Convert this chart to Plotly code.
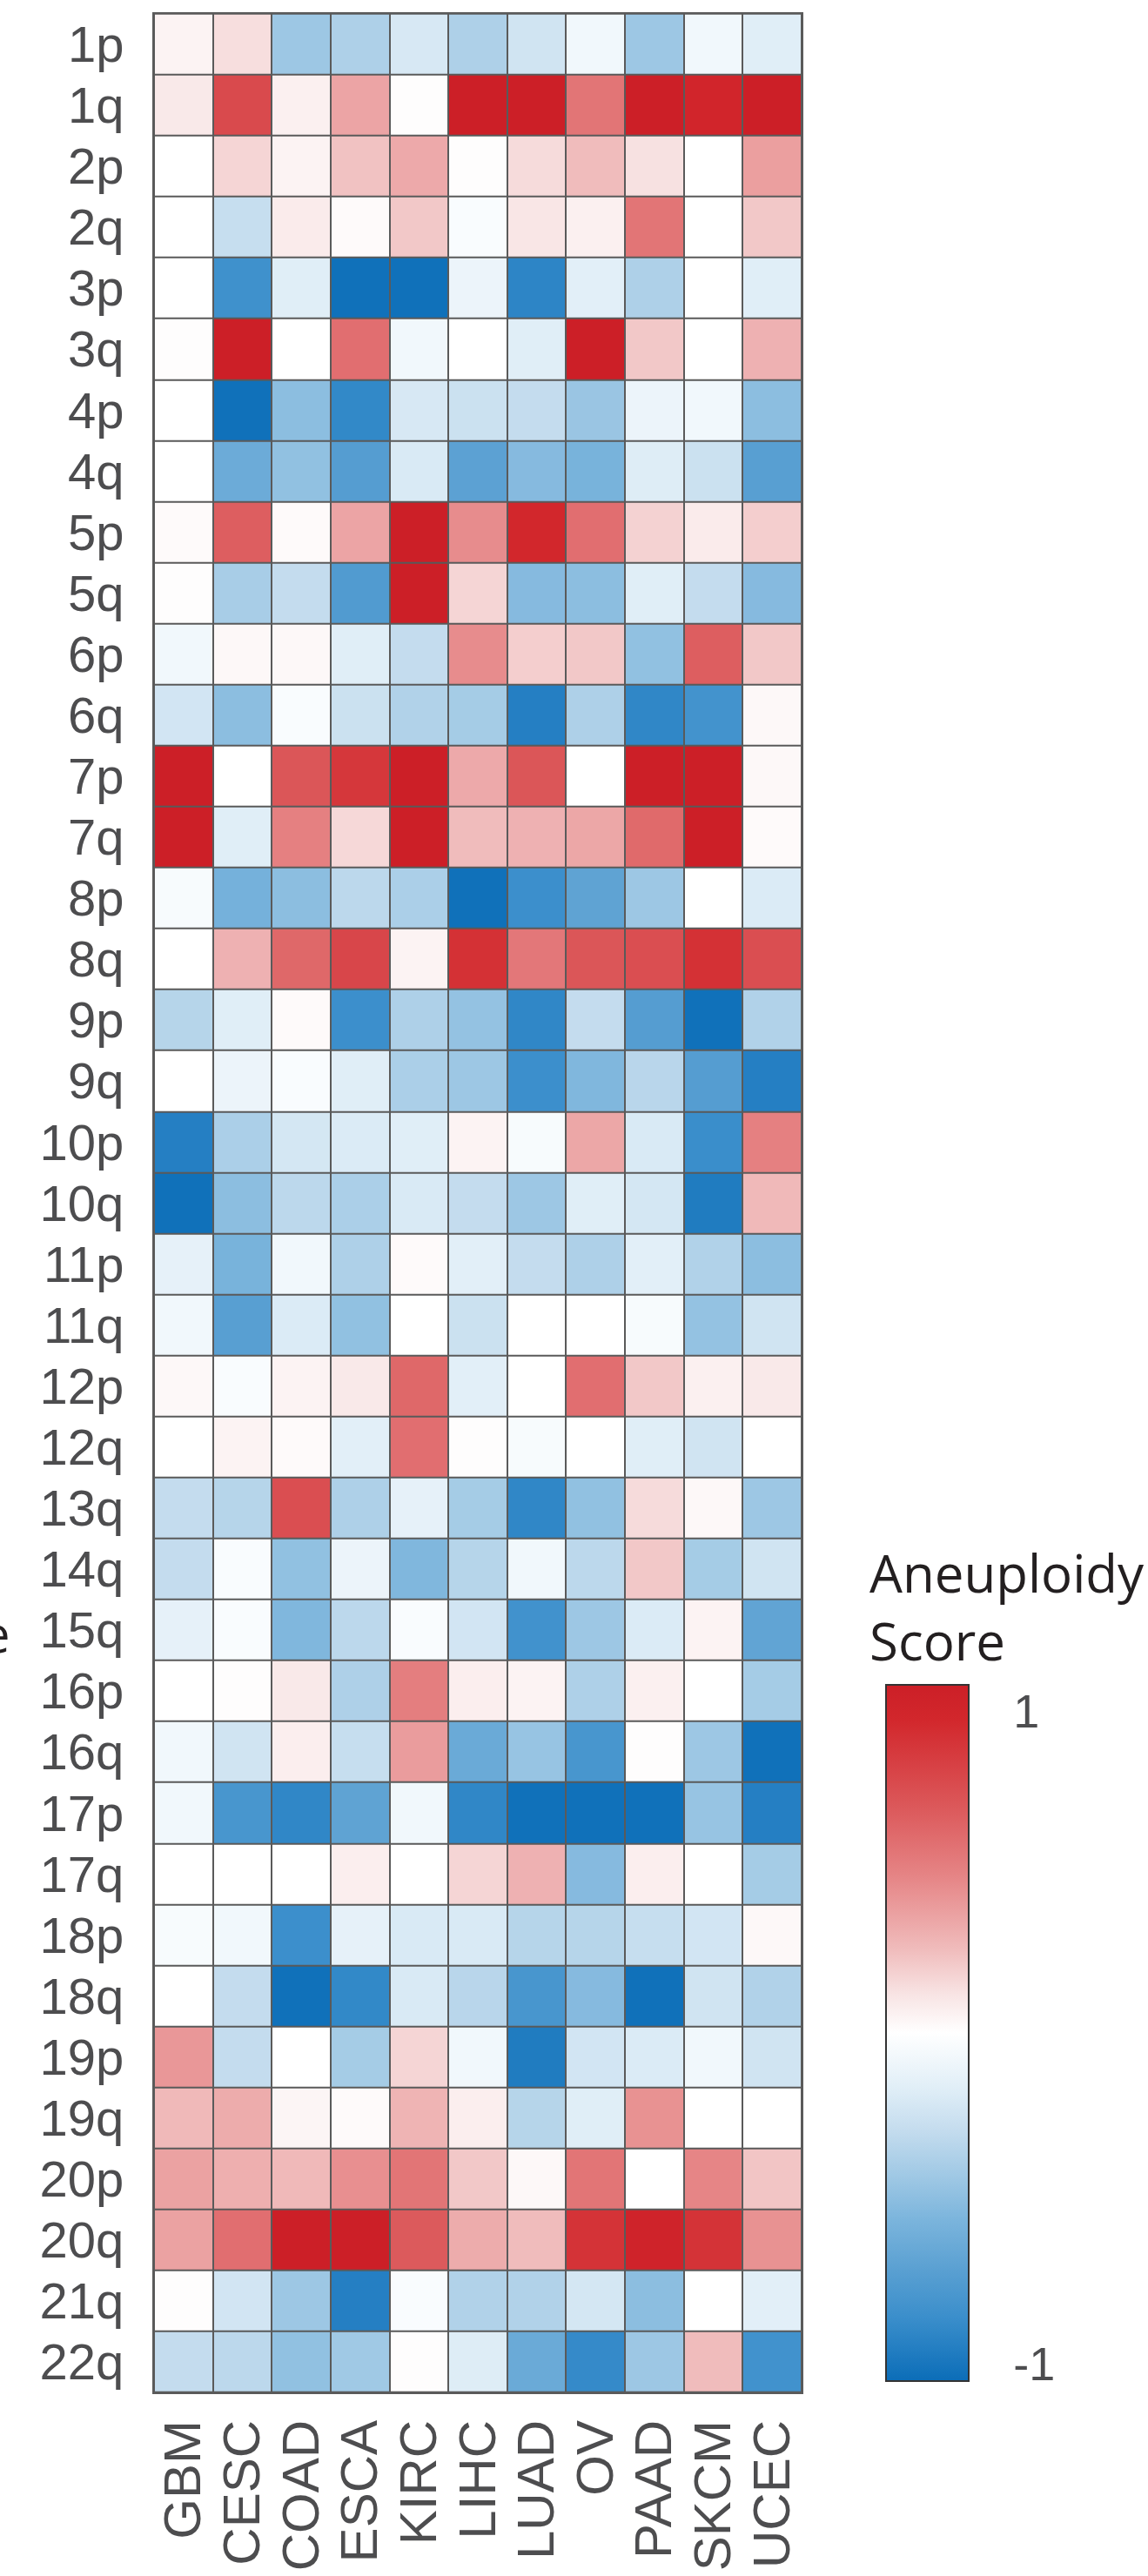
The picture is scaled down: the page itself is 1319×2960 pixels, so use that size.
import plotly.graph_objects as go

cancers = ["GBM", "CESC", "COAD", "ESCA", "KIRC", "LIHC", "LUAD", "OV", "PAAD", "SKCM", "UCEC"]
arms = ["1p", "1q", "2p", "2q", "3p", "3q", "4p", "4q", "5p", "5q", "6p", "6q", "7p", "7q",
        "8p", "8q", "9p", "9q", "10p", "10q", "11p", "11q", "12p", "12q", "13q", "14q", "15q",
        "16p", "16q", "17p", "17q", "18p", "18q", "19p", "19q", "20p", "20q", "21q", "22q"]

# Aneuploidy score per arm (rows) and cancer type (columns)
scores = [
    [0.05, 0.13, -0.42, -0.36, -0.20, -0.36, -0.23, -0.07, -0.42, -0.07, -0.16],  # 1p
    [0.09, 0.72, 0.06, 0.33, 0.01, 1.00, 1.00, 0.52, 1.00, 0.92, 1.00],            # 1q
    [0.00, 0.16, 0.05, 0.22, 0.31, 0.01, 0.14, 0.24, 0.12, 0.00, 0.35],            # 2p
    [0.00, -0.27, 0.08, 0.02, 0.20, -0.03, 0.10, 0.06, 0.52, 0.00, 0.20],          # 2q
    [0.00, -0.80, -0.16, -0.98, -0.98, -0.10, -0.87, -0.15, -0.36, 0.00, -0.16],   # 3p
    [0.01, 1.00, 0.00, 0.55, -0.07, 0.00, -0.16, 1.00, 0.20, 0.00, 0.28],          # 3q
    [0.00, -0.98, -0.48, -0.85, -0.20, -0.25, -0.28, -0.43, -0.10, -0.07, -0.48],  # 4p
    [0.00, -0.60, -0.46, -0.70, -0.19, -0.67, -0.50, -0.55, -0.17, -0.25, -0.69],  # 4q
    [0.02, 0.62, 0.02, 0.33, 1.00, 0.42, 0.90, 0.55, 0.17, 0.08, 0.18],            # 5p
    [0.01, -0.38, -0.28, -0.72, 1.00, 0.16, -0.50, -0.48, -0.16, -0.28, -0.50],    # 5q
    [-0.07, 0.03, 0.03, -0.16, -0.28, 0.42, 0.18, 0.20, -0.46, 0.62, 0.20],        # 6p
    [-0.22, -0.48, -0.03, -0.25, -0.35, -0.39, -0.90, -0.36, -0.86, -0.78, 0.03],  # 6q
    [1.00, 0.00, 0.66, 0.82, 1.00, 0.31, 0.66, 0.00, 1.00, 1.00, 0.03],            # 7p
    [1.00, -0.16, 0.47, 0.15, 1.00, 0.24, 0.28, 0.32, 0.57, 1.00, 0.02],           # 7q
    [-0.04, -0.56, -0.48, -0.31, -0.37, -0.98, -0.81, -0.66, -0.42, 0.00, -0.18],  # 8p
    [0.00, 0.28, 0.58, 0.74, 0.05, 0.85, 0.51, 0.66, 0.70, 0.85, 0.70],            # 8q
    [-0.33, -0.16, 0.02, -0.81, -0.36, -0.45, -0.86, -0.28, -0.70, -0.98, -0.35],  # 9p
    [0.00, -0.10, -0.03, -0.16, -0.37, -0.42, -0.81, -0.52, -0.32, -0.70, -0.90],  # 9q
    [-0.90, -0.37, -0.21, -0.18, -0.16, 0.05, -0.04, 0.32, -0.19, -0.82, 0.47],    # 10p
    [-0.98, -0.48, -0.31, -0.37, -0.19, -0.28, -0.42, -0.16, -0.21, -0.92, 0.25],  # 10q
    [-0.13, -0.55, -0.07, -0.36, 0.02, -0.15, -0.28, -0.36, -0.15, -0.35, -0.48],  # 11p
    [-0.07, -0.69, -0.18, -0.46, 0.00, -0.25, 0.00, 0.00, -0.04, -0.45, -0.23],    # 11q
    [0.03, -0.03, 0.05, 0.09, 0.58, -0.15, 0.00, 0.55, 0.20, 0.06, 0.09],          # 12p
    [0.00, 0.05, 0.02, -0.15, 0.55, 0.01, -0.04, 0.00, -0.16, -0.23, 0.00],        # 12q
    [-0.28, -0.33, 0.70, -0.36, -0.13, -0.39, -0.86, -0.46, 0.14, 0.03, -0.42],    # 13q
    [-0.28, -0.03, -0.46, -0.10, -0.52, -0.33, -0.07, -0.31, 0.20, -0.39, -0.23],  # 14q
    [-0.13, -0.03, -0.52, -0.31, -0.03, -0.22, -0.79, -0.42, -0.18, 0.05, -0.65],  # 15q
    [0.00, 0.01, 0.09, -0.36, 0.48, 0.07, 0.05, -0.36, 0.06, 0.00, -0.39],         # 16p
    [-0.07, -0.23, 0.07, -0.27, 0.36, -0.61, -0.44, -0.76, 0.01, -0.42, -0.98],    # 16q
    [-0.07, -0.76, -0.86, -0.66, -0.07, -0.86, -0.98, -0.98, -0.98, -0.44, -0.90], # 17p
    [0.00, 0.00, 0.00, 0.07, 0.00, 0.16, 0.28, -0.50, 0.07, 0.00, -0.39],          # 17q
    [-0.04, -0.07, -0.81, -0.13, -0.19, -0.19, -0.33, -0.33, -0.27, -0.22, 0.03],  # 18p
    [0.00, -0.28, -0.98, -0.85, -0.19, -0.32, -0.76, -0.50, -0.98, -0.23, -0.35],  # 18q
    [0.38, -0.28, 0.00, -0.39, 0.16, -0.07, -0.92, -0.22, -0.18, -0.07, -0.23],    # 19p
    [0.25, 0.30, 0.04, 0.02, 0.27, 0.07, -0.33, -0.16, 0.40, 0.00, 0.00],          # 19q
    [0.34, 0.29, 0.25, 0.41, 0.52, 0.20, 0.03, 0.52, 0.00, 0.45, 0.21],            # 20p
    [0.34, 0.55, 1.00, 1.00, 0.64, 0.30, 0.24, 0.84, 0.95, 0.84, 0.40],            # 20q
    [0.01, -0.22, -0.42, -0.90, -0.03, -0.35, -0.35, -0.21, -0.48, 0.00, -0.15],   # 21q
    [-0.28, -0.31, -0.46, -0.41, 0.01, -0.17, -0.61, -0.84, -0.42, 0.24, -0.79],   # 22q
]

colorbar_ticks = [0.925, -0.95]
colorbar_ticktext = ["1", "-1"]

W, H = 1319, 2960

colorscale = [
    [0.00, "#0b6db8"], [0.09, "#3a8ecb"], [0.16, "#5aa0d2"], [0.23, "#7ab4dc"],
    [0.29, "#9dc7e4"], [0.36, "#c4dcee"], [0.42, "#e0eef7"], [0.50, "#ffffff"],
    [0.555, "#f8e4e4"], [0.62, "#f0bcbc"], [0.72, "#e68788"], [0.82, "#dc5a5c"],
    [0.95, "#d2272c"], [1.00, "#cc1f27"],
]

family = "Liberation Sans, Arial, Helvetica, sans-serif"
y_tick_font = dict(family=family, size=58, color="#4d4d4f")
x_tick_font = dict(family=family, size=60, color="#4d4d4f")

fig = go.Figure(go.Heatmap(
    z=scores, x=cancers, y=arms,
    zmin=-1, zmax=1, colorscale=colorscale,
    xgap=2, ygap=2,
    colorbar=dict(
        x=1018 / W, xanchor="left", xref="paper", xpad=0,
        y=(H - 2336) / H, yanchor="middle", yref="paper", ypad=0,
        thicknessmode="pixels", thickness=95,
        lenmode="pixels", len=800,
        outlinewidth=2, outlinecolor="#333333",
        tickmode="array", tickvals=colorbar_ticks, ticktext=colorbar_ticktext,
        ticks="outside", ticklen=40, tickcolor="rgba(0,0,0,0)",
        tickfont=dict(family=family, size=54, color="#4d4d4f"),
    ),
))

fig.update_layout(
    width=W, height=H,
    margin=dict(l=0, r=0, t=0, b=0, pad=0),
    paper_bgcolor="white",
    plot_bgcolor="#5a5a5a",
    xaxis=dict(
        domain=[177 / W, 921 / W],
        tickmode="array", tickvals=cancers, ticktext=cancers,
        tickangle=-90, tickfont=x_tick_font, ticks="",
        ticklabelstandoff=6,
        showline=True, mirror=True, linecolor="#5a5a5a", linewidth=2,
        showgrid=False, zeroline=False, automargin=False,
    ),
    yaxis=dict(
        domain=[(H - 2749) / H, (H - 15.7) / H],
        tickmode="array", tickvals=arms, ticktext=arms,
        autorange="reversed", tickfont=y_tick_font, ticks="",
        ticklabelstandoff=21,
        showline=True, mirror=True, linecolor="#5a5a5a", linewidth=2,
        showgrid=False, zeroline=False, automargin=False,
    ),
    annotations=[
        dict(text="Aneuploidy<br>Score", xref="paper", yref="paper",
             x=997 / W, y=(H - 1846) / H, xanchor="left", yanchor="middle",
             align="left", showarrow=False,
             font=dict(family="Open Sans, sans-serif", size=60, color="#231f20")),
        dict(text="e", xref="paper", yref="paper",
             x=14 / W, y=(H - 1876) / H, xanchor="right", yanchor="middle",
             showarrow=False,
             font=dict(family="Open Sans, sans-serif", size=58, color="#231f20")),
    ],
)

fig.write_html("out.html")
